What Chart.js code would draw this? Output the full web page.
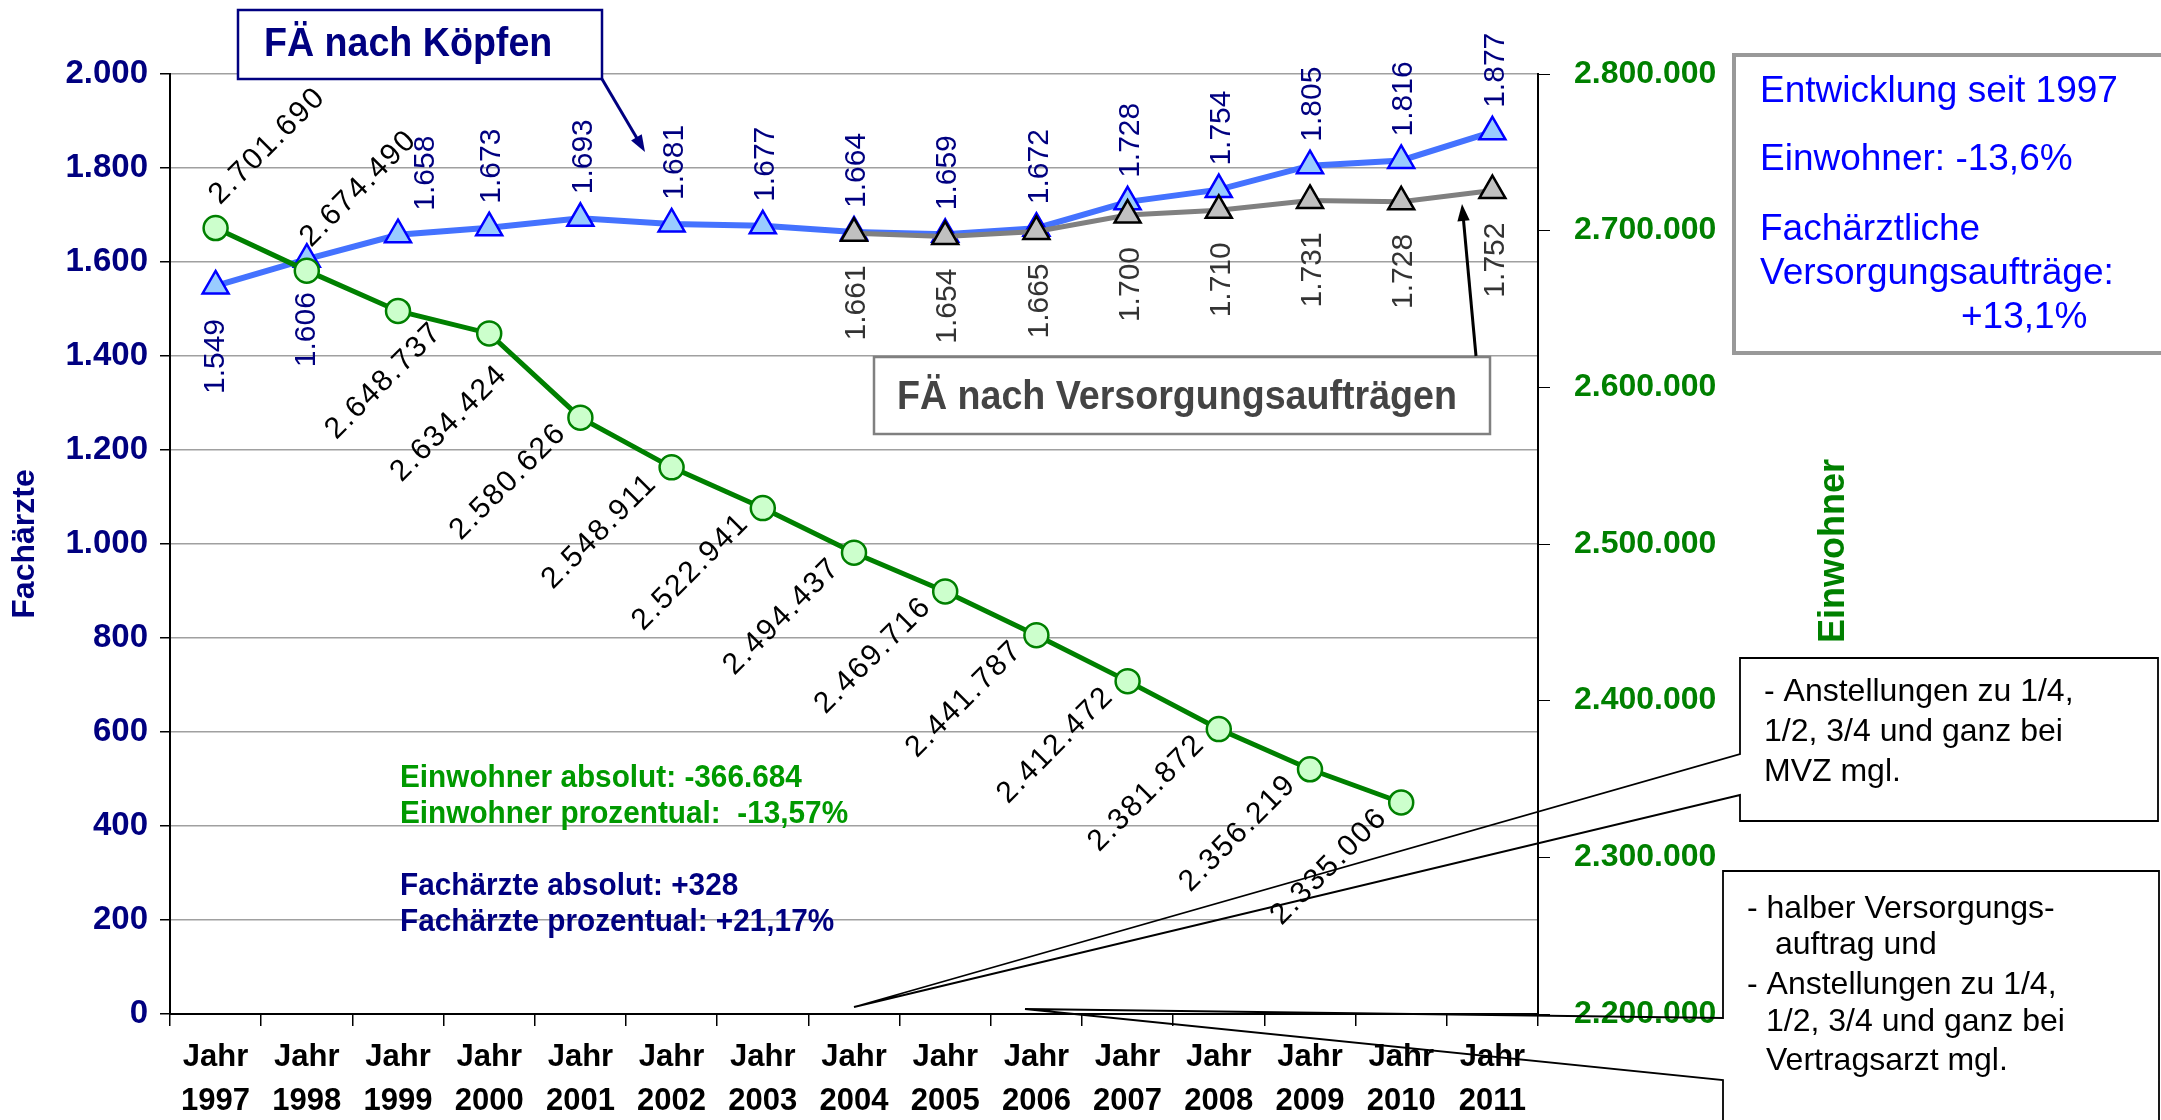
<!DOCTYPE html>
<html>
<head>
<meta charset="utf-8">
<script src="https://cdn.jsdelivr.net/npm/chart.js@4.4.1/dist/chart.umd.min.js"></script>
<style>
  html, body { margin: 0; padding: 0; background: #fff; }
  #wrap { width: 2161px; height: 1120px; }
</style>
</head>
<body>
<div id="wrap"><canvas id="chart" width="2161" height="1120"></canvas></div>
<script>
// data
const years = ['1997', '1998', '1999', '2000', '2001', '2002', '2003', '2004',
  '2005', '2006', '2007', '2008', '2009', '2010', '2011'];
const faNachKoepfen = [1549, 1606, 1658, 1673, 1693, 1681, 1677, 1664, 1659, 1672, 1728, 1754, 1805, 1816, 1877];
const faNachAuftraegen = [null, null, null, null, null, null, null, 1661, 1654, 1665, 1700, 1710, 1731, 1728, 1752];
const einwohner = [2701690, 2674490, 2648737, 2634424, 2580626, 2548911, 2522941, 2494437,
  2469716, 2441787, 2412472, 2381872, 2356219, 2335006, null];

const SANS = "'Liberation Sans', Arial, sans-serif";
const NAVY = '#000080';
const GREEN = '#008000';

function de(n) {
  return String(n).replace(/\B(?=(\d{3})+(?!\d))/g, '.');
}

function rotText(ctx, text, x, y, angle, align, font, color, spacing) {
  ctx.save();
  ctx.translate(x, y);
  ctx.rotate(angle);
  ctx.font = font;
  ctx.fillStyle = color;
  ctx.textAlign = align;
  ctx.textBaseline = 'middle';
  if (spacing) ctx.letterSpacing = spacing;
  ctx.fillText(text, 0, 0);
  ctx.restore();
}

function arrow(ctx, x1, y1, x2, y2, color, w) {
  const a = Math.atan2(y2 - y1, x2 - x1);
  const h = 18;
  ctx.save();
  ctx.strokeStyle = color;
  ctx.fillStyle = color;
  ctx.lineWidth = w;
  ctx.beginPath();
  ctx.moveTo(x1, y1);
  ctx.lineTo(x2 - Math.cos(a) * 6, y2 - Math.sin(a) * 6);
  ctx.stroke();
  ctx.beginPath();
  ctx.moveTo(x2, y2);
  ctx.lineTo(x2 - h * Math.cos(a - 0.35), y2 - h * Math.sin(a - 0.35));
  ctx.lineTo(x2 - h * Math.cos(a + 0.35), y2 - h * Math.sin(a + 0.35));
  ctx.closePath();
  ctx.fill();
  ctx.restore();
}

function textLines(ctx, lines, font, color, sx) {
  ctx.save();
  ctx.font = font;
  ctx.fillStyle = color;
  ctx.textAlign = 'left';
  ctx.textBaseline = 'middle';
  lines.forEach(l => {
    ctx.save();
    ctx.translate(l[1], l[2]);
    ctx.scale(sx || 1, 1);
    ctx.fillText(l[0], 0, 0);
    ctx.restore();
  });
  ctx.restore();
}

// where the diagonal Einwohner labels sit relative to their point
function einwohnerOffset(i) {
  if (i < 2) return [52, -82];
  if (i === 2) return [-14, 70];
  if (i === 3) return [-40, 90];
  return [-72, 64];
}

// value labels next to the points
const valueLabels = {
  id: 'valueLabels',
  afterDatasetsDraw(chart) {
    const ctx = chart.ctx;
    const up = -Math.PI / 2;
    chart.getDatasetMeta(2).data.forEach((p, i) => {
      const v = faNachKoepfen[i];
      if (v == null) return;
      if (i < 2) rotText(ctx, de(v), p.x, p.y + 33, up, 'right', '30px ' + SANS, NAVY);
      else rotText(ctx, de(v), p.x + (i === 2 ? 28 : 3), p.y - 24, up, 'left', '30px ' + SANS, NAVY);
    });
    chart.getDatasetMeta(1).data.forEach((p, i) => {
      const v = faNachAuftraegen[i];
      if (v == null) return;
      rotText(ctx, de(v), p.x + 3, p.y + 32, up, 'right', '30px ' + SANS, '#333333');
    });
    chart.getDatasetMeta(0).data.forEach((p, i) => {
      const v = einwohner[i];
      if (v == null) return;
      const o = einwohnerOffset(i);
      rotText(ctx, de(v), p.x + o[0], p.y + o[1], -Math.PI / 4, 'center', '30px ' + SANS, '#000', '2px');
    });
  }
};

// boxes, arrows and notes from the slide
const notes = {
  id: 'notes',
  afterDraw(chart) {
    const ctx = chart.ctx;
    ctx.save();

    // right axis title
    rotText(ctx, 'Einwohner', 1834, 551, -Math.PI / 2, 'center', 'bold 36px ' + SANS, GREEN);

    // "FÄ nach Köpfen"
    ctx.fillStyle = '#fff';
    ctx.fillRect(238, 10, 364, 69);
    ctx.strokeStyle = NAVY;
    ctx.lineWidth = 2.5;
    ctx.strokeRect(238, 10, 364, 69);
    textLines(ctx, [['FÄ nach Köpfen', 264, 45]], 'bold 40px ' + SANS, NAVY, 0.94);
    arrow(ctx, 602, 79, 645, 152, NAVY, 3);

    // "FÄ nach Versorgungsaufträgen"
    ctx.fillStyle = '#fff';
    ctx.fillRect(874, 357, 616, 77);
    ctx.strokeStyle = '#808080';
    ctx.lineWidth = 2.5;
    ctx.strokeRect(874, 357, 616, 77);
    textLines(ctx, [['FÄ nach Versorgungsaufträgen', 897, 398]], 'bold 40px ' + SANS, '#444444', 0.94);
    arrow(ctx, 1476, 356, 1462, 204, '#000', 3);

    // summary box top right
    ctx.strokeStyle = '#999999';
    ctx.lineWidth = 4;
    ctx.strokeRect(1734, 55, 460, 298);
    textLines(ctx, [
      ['Entwicklung seit 1997', 1760, 92],
      ['Einwohner: -13,6%', 1760, 160],
      ['Fachärztliche', 1760, 230],
      ['Versorgungsaufträge:', 1760, 274],
      ['+13,1%', 1961, 318]
    ], '37px ' + SANS, '#0000FF');

    // totals in the plot
    textLines(ctx, [
      ['Einwohner absolut: -366.684', 400, 778],
      ['Einwohner prozentual:  -13,57%', 400, 814]
    ], 'bold 32px ' + SANS, '#009900', 0.93);
    textLines(ctx, [
      ['Fachärzte absolut: +328', 400, 886],
      ['Fachärzte prozentual: +21,17%', 400, 922]
    ], 'bold 32px ' + SANS, NAVY, 0.93);

    // callout 1 (MVZ)
    ctx.strokeStyle = '#000';
    ctx.lineWidth = 1.8;
    ctx.fillStyle = '#fff';
    ctx.beginPath();
    ctx.moveTo(1740, 658);
    ctx.lineTo(2158, 658);
    ctx.lineTo(2158, 821);
    ctx.lineTo(1740, 821);
    ctx.lineTo(1740, 795);
    ctx.lineTo(854, 1007);
    ctx.lineTo(1740, 754);
    ctx.closePath();
    ctx.stroke();
    ctx.fillRect(1741, 659, 416, 161);
    textLines(ctx, [
      ['- Anstellungen zu 1/4,', 1764, 692],
      ['1/2, 3/4 und ganz bei', 1764, 732],
      ['MVZ mgl.', 1764, 772]
    ], '32px ' + SANS, '#000');

    // callout 2 (Vertragsarzt)
    ctx.beginPath();
    ctx.moveTo(1723, 1130);
    ctx.lineTo(1723, 1080);
    ctx.lineTo(1025, 1009);
    ctx.lineTo(1723, 1018);
    ctx.lineTo(1723, 871);
    ctx.lineTo(2159, 871);
    ctx.lineTo(2159, 1130);
    ctx.stroke();
    ctx.fillRect(1724, 872, 434, 260);
    textLines(ctx, [
      ['- halber Versorgungs-', 1747, 909],
      ['auftrag und', 1775, 945],
      ['- Anstellungen zu 1/4,', 1747, 985],
      ['1/2, 3/4 und ganz bei', 1766, 1022],
      ['Vertragsarzt mgl.', 1766, 1061]
    ], '32px ' + SANS, '#000');

    ctx.restore();
  }
};

new Chart(document.getElementById('chart'), {
  type: 'line',
  data: {
    labels: years.map(y => ['Jahr', y]),
    datasets: [{
      label: 'Einwohner',
      data: einwohner,
      yAxisID: 'y1',
      borderColor: GREEN,
      borderWidth: 5,
      pointStyle: 'circle',
      pointRadius: 12,
      pointBackgroundColor: '#CCFFCC',
      pointBorderColor: GREEN,
      pointBorderWidth: 2.5,
      order: 0
    }, {
      label: 'FÄ nach Versorgungsaufträgen',
      data: faNachAuftraegen,
      yAxisID: 'y',
      borderColor: '#808080',
      borderWidth: 5,
      pointStyle: 'triangle',
      pointRadius: 15,
      pointBackgroundColor: '#C0C0C0',
      pointBorderColor: '#000',
      pointBorderWidth: 2.5,
      order: 1
    }, {
      label: 'FÄ nach Köpfen',
      data: faNachKoepfen,
      yAxisID: 'y',
      borderColor: '#4472FF',
      borderWidth: 6,
      pointStyle: 'triangle',
      pointRadius: 15,
      pointBackgroundColor: '#99CCFF',
      pointBorderColor: '#0000FF',
      pointBorderWidth: 2.5,
      order: 2
    }]
  },
  options: {
    responsive: false,
    animation: false,
    layout: { padding: { top: 74, right: 423, bottom: 0, left: 0 } },
    plugins: {
      legend: { display: false },
      tooltip: { enabled: false }
    },
    scales: {
      x: {
        offset: true,
        grid: { drawOnChartArea: false, offset: true, tickLength: 12, color: '#000', lineWidth: 1.5 },
        border: { color: '#000', width: 2 },
        ticks: {
          color: '#000',
          font: { family: SANS, size: 31, weight: 'bold', lineHeight: 1.4 },
          padding: 10,
          maxRotation: 0,
          autoSkip: false
        },
        afterFit(scale) { scale.height = 106; }
      },
      y: {
        position: 'left',
        min: 0,
        max: 2000,
        ticks: {
          stepSize: 200,
          color: NAVY,
          font: { family: SANS, size: 33, weight: 'bold' },
          padding: 12,
          callback: v => de(v)
        },
        grid: { color: '#A0A0A0', lineWidth: 1.5, tickLength: 10, tickColor: '#000' },
        border: { color: '#000', width: 2 },
        title: {
          display: true,
          text: 'Fachärzte',
          color: NAVY,
          font: { family: SANS, size: 32, weight: 'bold' },
          padding: { top: 6, bottom: 0 }
        },
        afterFit(scale) { scale.width = 170; }
      },
      y1: {
        position: 'right',
        min: 2200000,
        max: 2800000,
        ticks: {
          stepSize: 100000,
          color: GREEN,
          font: { family: SANS, size: 32, weight: 'bold' },
          padding: 24,
          callback: v => de(v)
        },
        grid: { drawOnChartArea: false, tickLength: 12, color: '#000' },
        border: { color: '#000', width: 2 },
        afterFit(scale) { scale.width = 200; }
      }
    }
  },
  plugins: [valueLabels, notes]
});
</script>
</body>
</html>
